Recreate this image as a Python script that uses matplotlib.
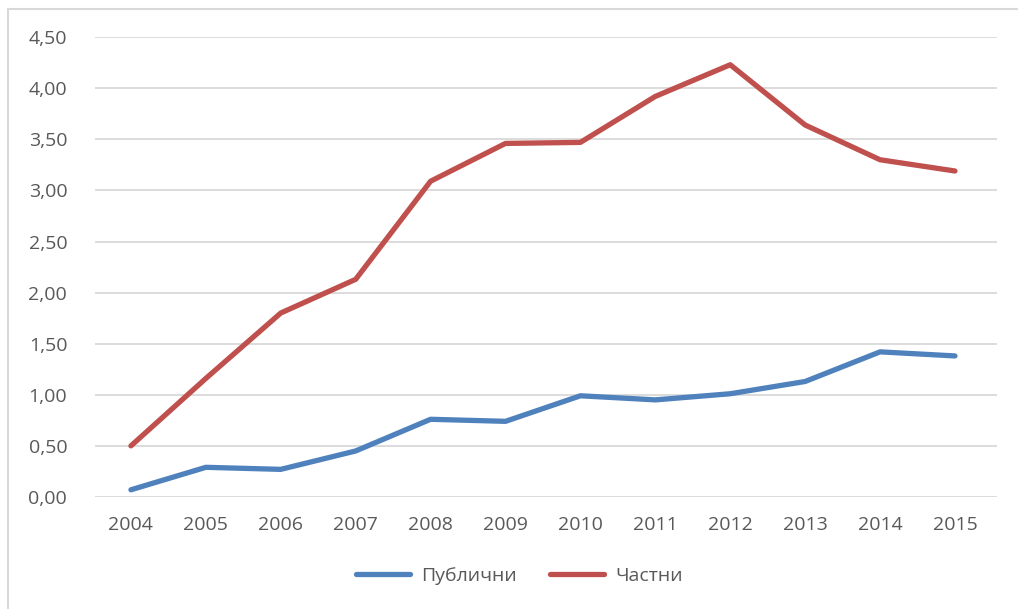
import matplotlib
matplotlib.use("Agg")
import matplotlib.pyplot as plt
from matplotlib.patches import Rectangle
from matplotlib.ticker import FuncFormatter

years = ["2004", "2005", "2006", "2007", "2008", "2009", "2010", "2011", "2012", "2013", "2014", "2015"]
publichni = [0.07, 0.29, 0.27, 0.45, 0.76, 0.74, 0.99, 0.95, 1.01, 1.13, 1.42, 1.38]
chastni = [0.50, 1.16, 1.80, 2.13, 3.09, 3.46, 3.47, 3.92, 4.23, 3.64, 3.30, 3.19]
series_names = ["Публични", "Частни"]

plt.rcParams['font.family'] = ['Open Sans', 'DejaVu Sans']
txt = '#595959'

fig = plt.figure(figsize=(10.18, 6.09), dpi=100)
ax = fig.add_axes([0.0933, 0.184, 0.886, 0.755])

x = list(range(len(years)))
ax.plot(x, publichni, color='#4F81BD', lw=3.8, solid_capstyle='round', solid_joinstyle='round', label=series_names[0])
ax.plot(x, chastni, color='#C0504D', lw=3.8, solid_capstyle='round', solid_joinstyle='round', label=series_names[1])

ax.set_ylim(0, 4.5)
ax.set_xlim(-0.48, 11.56)
ax.set_yticks([i * 0.5 for i in range(10)])
ax.yaxis.set_major_formatter(FuncFormatter(lambda v, p: f"{v:.2f}".replace('.', ',')))
ax.set_xticks(x)
ax.set_xticklabels(years)
ax.grid(axis='y', color='#D9D9D9', lw=1.3)
ax.set_axisbelow(True)
for s in ax.spines.values():
    s.set_visible(False)
ax.tick_params(axis='both', length=0, labelsize=14, labelcolor=txt)
ax.tick_params(axis='y', pad=20)
ax.tick_params(axis='x', pad=14)

leg = fig.legend(loc='center', bbox_to_anchor=(0.510, 0.054), ncol=2, frameon=False,
                 fontsize=14, handlelength=2.8, columnspacing=1.7, handletextpad=0.55,
                 borderpad=0, borderaxespad=0)
for t in leg.get_texts():
    t.set_color(txt)

fig.patches.append(Rectangle((8 / 1018, -0.1), 1.2, (609 - 9) / 609 + 0.1, transform=fig.transFigure,
                             fill=False, edgecolor='#D9D9D9', lw=1.5, clip_on=False))

fig.savefig('out.png', dpi=100)
